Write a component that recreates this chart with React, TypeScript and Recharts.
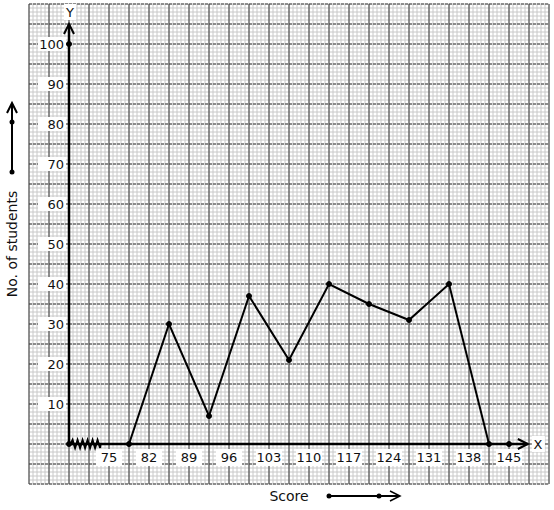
import React from 'react';
import {
  LineChart,
  Line,
  XAxis,
  YAxis,
  CartesianGrid,
  ReferenceLine,
  ReferenceDot,
} from 'recharts';

// class marks of the score classes and frequency of each class
const classMarks = [78.5, 85.5, 92.5, 99.5, 106.5, 113.5, 120.5, 127.5, 134.5, 141.5];
const students = [0, 30, 7, 37, 21, 40, 35, 31, 40, 0];

const xTicks = [75, 82, 89, 96, 103, 110, 117, 124, 131, 138, 145];
const yTicks = [10, 20, 30, 40, 50, 60, 70, 80, 90, 100];

const ORIGIN_X = 68; // where the broken x axis meets the y axis
const X_END = 148.3;
const Y_END = 105;

const data = classMarks.map((score, i) => ({ score, students: students[i] }));

const FONT = '"DejaVu Sans", sans-serif';
const TICK_SIZE = 13;

const stepLines = (start: number, length: number, step: number) => {
  const out: number[] = [];
  for (let p = start; p <= start + length + 0.01; p += step) out.push(p);
  return out;
};

const minorV = ({ offset }: any) => stepLines(offset.left, offset.width, 4);
const minorH = ({ offset }: any) => stepLines(offset.top, offset.height, 4);
const majorV = ({ offset }: any) => stepLines(offset.left, offset.width, 20);
const majorH = ({ offset }: any) => stepLines(offset.top, offset.height, 20);

const XTickLabel = ({ cx, cy, value }: any) => (
  <g>
    <rect x={cx - 13} y={cy + 5} width={26} height={17} fill="#fff" />
    <text x={cx} y={cy + 13} dy="0.35em" textAnchor="middle" fontSize={TICK_SIZE} fontFamily={FONT} fill="#111">
      {value}
    </text>
  </g>
);

const YTickLabel = ({ cx, cy, value }: any) => (
  <g>
    <rect x={cx - 31} y={cy - 7} width={28} height={14} fill="#fff" />
    <text x={cx - 5} y={cy} dy="0.35em" textAnchor="end" fontSize={TICK_SIZE} fontFamily={FONT} fill="#111">
      {value}
    </text>
  </g>
);

const Zigzag = ({ cx, cy }: any) => {
  let d = `M${cx - 15},${cy}`;
  for (let i = 0; i < 6; i++) {
    const x = cx - 13 + i * 5;
    d += ` L${x},${cy - 4} L${x + 2.5},${cy + 4}`;
  }
  d += ` L${cx + 15},${cy}`;
  return <path d={d} stroke="#000" strokeWidth={2} fill="none" />;
};

const ArrowUp = ({ cx, cy }: any) => (
  <g>
    <path d={`M${cx - 5},${cy + 10} L${cx},${cy} L${cx + 5},${cy + 10}`} stroke="#000" strokeWidth={2} fill="none" />
    <rect x={cx - 5} y={cy - 20} width={12} height={16} fill="#fff" />
    <text x={cx + 1} y={cy - 12} dy="0.35em" textAnchor="middle" fontSize={TICK_SIZE} fontFamily={FONT} fill="#111">
      Y
    </text>
  </g>
);

const ArrowRight = ({ cx, cy }: any) => (
  <g>
    <path d={`M${cx - 10},${cy - 5} L${cx},${cy} L${cx - 10},${cy + 5}`} stroke="#000" strokeWidth={2} fill="none" />
    <rect x={cx + 4} y={cy - 8} width={13} height={16} fill="#fff" />
    <text x={cx + 10} y={cy} dy="0.35em" textAnchor="middle" fontSize={TICK_SIZE} fontFamily={FONT} fill="#111">
      X
    </text>
  </g>
);

const YTitle = ({ viewBox }: any) => {
  const x = viewBox.x + 12;
  return (
    <g>
      <text
        x={x}
        y={244}
        transform={`rotate(-90, ${x}, 244)`}
        textAnchor="middle"
        dy="0.35em"
        fontSize={14}
        fontFamily={FONT}
        fill="#111"
      >
        No. of students
      </text>
      <line x1={x} y1={172} x2={x} y2={104} stroke="#000" strokeWidth={2} />
      <path d={`M${x - 5},${113} L${x},${103} L${x + 5},${113}`} stroke="#000" strokeWidth={2} fill="none" />
      <circle cx={x} cy={122} r={2.5} fill="#000" />
      <circle cx={x} cy={172} r={2.5} fill="#000" />
    </g>
  );
};

const XTitle = ({ viewBox }: any) => {
  const y = viewBox.y + 12;
  return (
    <g>
      <text x={289} y={y} dy="0.35em" textAnchor="middle" fontSize={14} fontFamily={FONT} fill="#111">
        Score
      </text>
      <line x1={329} y1={y} x2={399} y2={y} stroke="#000" strokeWidth={2} />
      <path d={`M${390},${y - 5} L${400},${y} L${390},${y + 5}`} stroke="#000" strokeWidth={1.5} fill="none" />
      <circle cx={329} cy={y} r={2.5} fill="#000" />
      <circle cx={379} cy={y} r={2.5} fill="#000" />
    </g>
  );
};

export default function App() {
  return (
    <div style={{ position: 'absolute', left: 0, top: 0, background: '#fff' }}>
      <LineChart
        width={554}
        height={510}
        data={data}
        margin={{ top: 4, right: 5, left: 0, bottom: 0 }}
      >
        <CartesianGrid
          verticalCoordinatesGenerator={minorV}
          horizontalCoordinatesGenerator={minorH}
          stroke="#c8c8c8"
          strokeWidth={1}
        />
        <CartesianGrid
          verticalCoordinatesGenerator={majorV}
          horizontalCoordinatesGenerator={() => []}
          stroke="#3a3a3a"
          strokeWidth={1}
        />
        <CartesianGrid
          verticalCoordinatesGenerator={() => []}
          horizontalCoordinatesGenerator={majorH}
          stroke="#3a3a3a"
          strokeDasharray="3 1"
          strokeWidth={1}
        />
        <XAxis
          dataKey="score"
          type="number"
          domain={[61, 152]}
          tick={false}
          tickLine={false}
          axisLine={false}
          height={26}
          label={<XTitle />}
        />
        <YAxis
          type="number"
          domain={[-10, 110]}
          tick={false}
          tickLine={false}
          axisLine={false}
          width={29}
          label={<YTitle />}
        />

        {yTicks.map((t) => (
          <ReferenceDot
            key={`y${t}`}
            x={ORIGIN_X}
            y={t}
            ifOverflow="visible"
            shape={(p: any) => <YTickLabel {...p} value={t} />}
          />
        ))}
        {xTicks.map((t) => (
          <ReferenceDot
            key={`x${t}`}
            x={t}
            y={0}
            ifOverflow="visible"
            shape={(p: any) => <XTickLabel {...p} value={t} />}
          />
        ))}

        <ReferenceLine
          segment={[{ x: ORIGIN_X, y: 0 }, { x: ORIGIN_X, y: Y_END }]}
          stroke="#000"
          strokeWidth={2.5}
        />
        <ReferenceLine
          segment={[{ x: ORIGIN_X, y: 0 }, { x: X_END, y: 0 }]}
          stroke="#000"
          strokeWidth={2.5}
        />
        <ReferenceDot x={ORIGIN_X} y={Y_END} ifOverflow="visible" shape={(p: any) => <ArrowUp {...p} />} />
        <ReferenceDot x={X_END} y={0} ifOverflow="visible" shape={(p: any) => <ArrowRight {...p} />} />
        <ReferenceDot x={70.9} y={0} ifOverflow="visible" shape={(p: any) => <Zigzag {...p} />} />
        <ReferenceDot x={ORIGIN_X} y={0} r={2.5} fill="#000" stroke="#000" />
        <ReferenceDot x={ORIGIN_X} y={100} r={2.5} fill="#000" stroke="#000" />
        <ReferenceDot x={145} y={0} r={2.5} fill="#000" stroke="#000" />

        <Line
          type="linear"
          dataKey="students"
          stroke="#000"
          strokeWidth={2}
          dot={{ r: 2.5, fill: '#000', stroke: '#000', strokeWidth: 1 }}
          activeDot={false}
          isAnimationActive={false}
        />
      </LineChart>
    </div>
  );
}
